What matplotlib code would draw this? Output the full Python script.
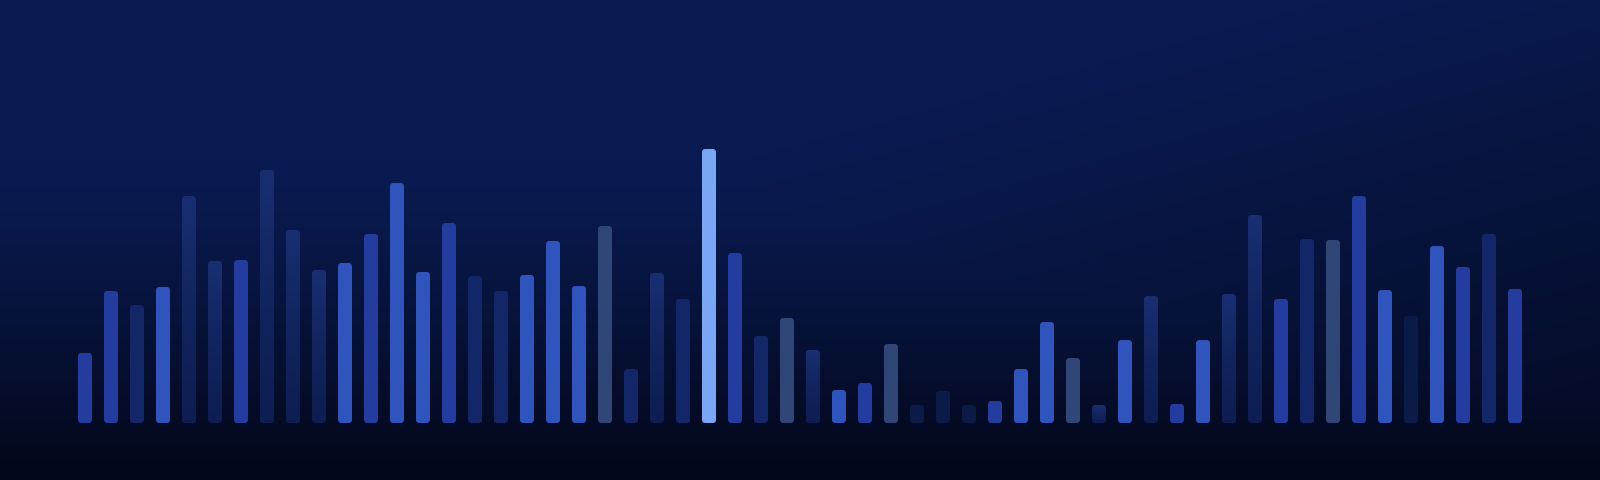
import matplotlib.pyplot as plt
import numpy as np
from matplotlib.colors import to_rgb
from matplotlib.patches import FancyBboxPatch

# bar heights (pixels above the baseline)
heights = [70, 132, 118, 136, 227, 162, 163, 253, 193, 153, 160, 189, 240, 151,
           200, 147, 132, 148, 182, 137, 197, 54, 150, 124, 274, 170, 87, 105,
           73, 33, 40, 79, 18, 32, 18, 22, 54, 101, 65, 18, 83, 127, 19, 83,
           129, 208, 124, 184, 183, 227, 133, 107, 177, 156, 189, 134]
# tone of every bar: A bright, B medium, C navy, D slate, E deep, F highlight, S stippled
tones = list("BBCASSBSSSABAABCCAAADCSCFBCDSABDEEEBAADSASBASSBCDBAEABCB")

tone_colors = {
    "A": "#2f54bc",
    "B": "#233c9d",
    "C": "#132667",
    "D": "#2f4677",
    "E": "#0c1a48",
    "F": "#79a7f6",
    "S": "#0d1c4f",
}
dot_color = "#3153b4"

W, H = 1600, 480
pitch = 26.0        # px between bar centres
first_center = 85.0  # px
baseline = 57.0     # px from bottom
bar_w = 14.0 / pitch
radius = 3.5 / pitch

fig = plt.figure(figsize=(W / 100, H / 100), dpi=100)

# background
yy, xx = np.mgrid[0:H, 0:W].astype(float)
tv = np.clip((yy - 160) / 310, 0, 1) ** 1.25
td = np.clip((yy + 0.27 * xx - 360) / 480, 0, 1)
t = np.clip(np.maximum(tv, 0.75 * td), 0, 1)
light = np.array(to_rgb("#0a1b52"))
dark = np.array(to_rgb("#03071a"))
bg = light[None, None, :] * (1 - t[..., None]) + dark[None, None, :] * t[..., None]
bg_ax = fig.add_axes([0, 0, 1, 1])
bg_ax.imshow(bg, aspect="auto", interpolation="bilinear")
bg_ax.set_axis_off()

ax = fig.add_axes([0, 0, 1, 1])
ax.patch.set_alpha(0)
ax.set_xlim(-first_center / pitch, (W - first_center) / pitch)
ax.set_ylim(-baseline, H - baseline)
ax.set_axis_off()

x = np.arange(len(heights))
bars = ax.bar(x, heights, width=bar_w, color="none", linewidth=0)

grad = np.linspace(1, 0, 256).reshape(-1, 1)
dot_rgb = np.array(to_rgb(dot_color))

for rect, tone in zip(bars, tones):
    x0, y0 = rect.get_x(), rect.get_y()
    w, h = rect.get_width(), rect.get_height()
    patch = FancyBboxPatch(
        (x0, y0), w, h,
        boxstyle=f"round,pad=0,rounding_size={radius}",
        mutation_aspect=pitch,
        facecolor=tone_colors[tone],
        edgecolor="none",
        linewidth=0,
        zorder=2,
    )
    ax.add_patch(patch)
    if tone == "S":
        rgba = np.zeros((256, 1, 4))
        rgba[..., :3] = dot_rgb
        rgba[..., 3] = 0.05 + 0.3 * grad ** 1.5
        im = ax.imshow(rgba, extent=[x0, x0 + w, y0, y0 + h], aspect="auto",
                       origin="upper", zorder=3, interpolation="bilinear")
        im.set_clip_path(patch)
    rect.remove()

fig.savefig("out.png", dpi=100)
